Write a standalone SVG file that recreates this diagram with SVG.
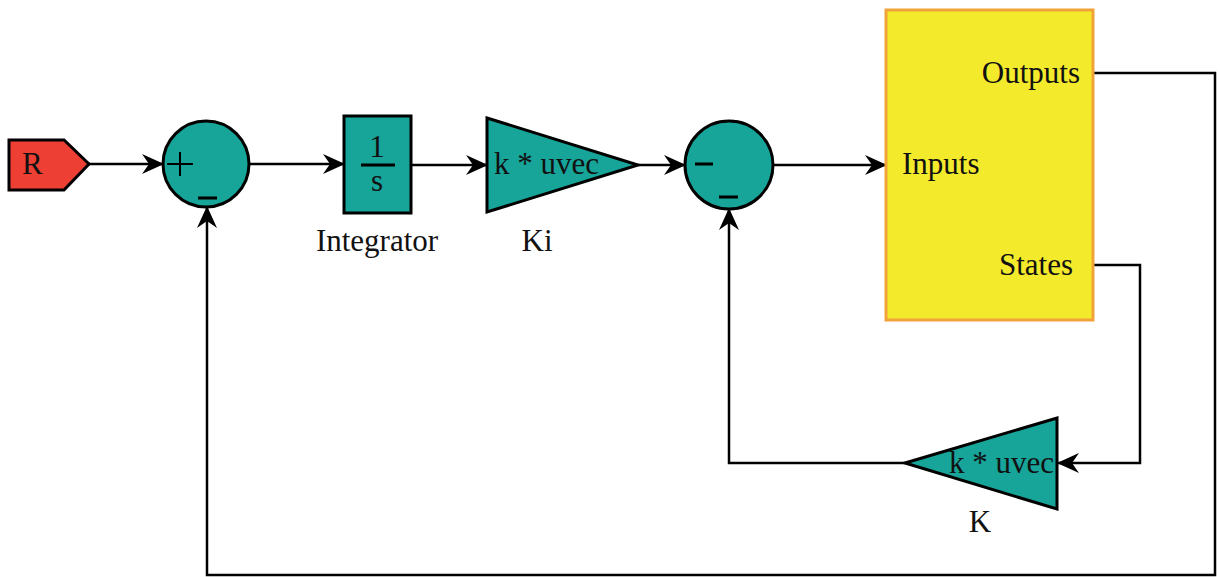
<svg xmlns="http://www.w3.org/2000/svg" width="1220" height="577" viewBox="0 0 1220 577">
<style>
.blk{fill:#17A499;stroke:#000;stroke-width:3}
.ln{fill:none;stroke:#000;stroke-width:2.5}
.t{font-family:"Liberation Serif",serif;font-size:31px;fill:#111}
.sg{stroke:#000;stroke-width:3}
</style>
<defs>
<marker id="ah" viewBox="0 0 22 22" refX="21" refY="11" markerWidth="22" markerHeight="22" markerUnits="userSpaceOnUse" orient="auto">
<path d="M0,1 L22,11 L0,21 L7,11 Z" fill="#000"/>
</marker>
</defs>
<rect width="1220" height="577" fill="#fff"/>
<g id="connectors">
<path class="ln" d="M89,164 L163,164" marker-end="url(#ah)"/>
<path class="ln" d="M250,164 L344,164" marker-end="url(#ah)"/>
<path class="ln" d="M411,165 L487,165" marker-end="url(#ah)"/>
<path class="ln" d="M638,165 L685,165" marker-end="url(#ah)"/>
<path class="ln" d="M773,165 L886,165" marker-end="url(#ah)"/>
<path class="ln" d="M1093,73 L1215,73 L1215,575 L207,575 L207,207" marker-end="url(#ah)"/>
<path class="ln" d="M1093,265 L1140,265 L1140,463 L1058,463" marker-end="url(#ah)"/>
<path class="ln" d="M905,463 L729,463 L729,209" marker-end="url(#ah)"/>
</g>
<g id="R">
<path d="M9,140 L64,140 L89,164 L64,190 L9,190 Z" fill="#EE3F35" stroke="#000" stroke-width="3"/>
<text class="t" x="22" y="174">R</text>
</g>
<g id="sum1">
<circle class="blk" cx="206" cy="164" r="43"/>
<path d="M167,164 H193 M180,152 V176" stroke="#000" stroke-width="2"/>
<path class="sg" d="M198,198 H217"/>
</g>
<g id="integrator">
<rect class="blk" x="344" y="116" width="67" height="97"/>
<text class="t" x="377" y="157" text-anchor="middle">1</text>
<path d="M361,165 H395" stroke="#000" stroke-width="3"/>
<text class="t" x="377" y="191" text-anchor="middle">s</text>
<text class="t" x="377" y="251" text-anchor="middle">Integrator</text>
</g>
<g id="Ki">
<path class="blk" d="M487,118 L638,165 L487,212 Z"/>
<text class="t" x="494" y="174">k * uvec</text>
<text class="t" x="537" y="251" text-anchor="middle">Ki</text>
</g>
<g id="sum2">
<circle class="blk" cx="729" cy="165" r="44"/>
<path class="sg" d="M695,164 H713 M719,197 H738"/>
</g>
<g id="plant">
<rect x="886" y="10" width="207" height="310" fill="#F4EA2C" stroke="#F2A23A" stroke-width="3"/>
<text class="t" x="1080" y="83" text-anchor="end">Outputs</text>
<text class="t" x="902" y="174">Inputs</text>
<text class="t" x="1073" y="275" text-anchor="end">States</text>
</g>
<g id="K">
<path class="blk" d="M905,463 L1057,418 L1057,509 Z"/>
<text class="t" x="949" y="473">k * uvec</text>
<text class="t" x="980" y="532" text-anchor="middle">K</text>
</g>
</svg>
